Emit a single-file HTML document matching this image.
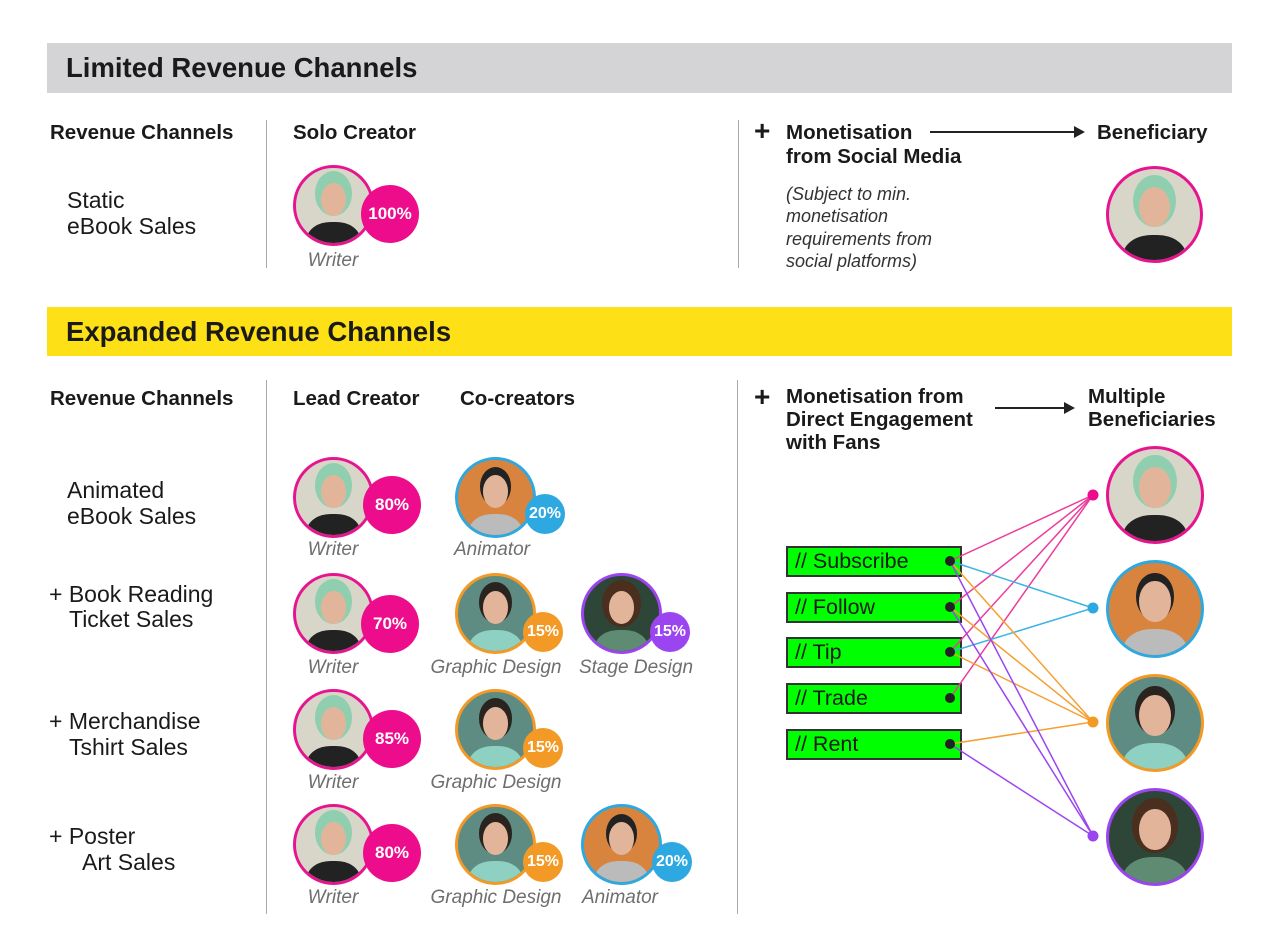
<!DOCTYPE html>
<html><head><meta charset="utf-8"><style>
*{margin:0;padding:0;box-sizing:border-box}
body{width:1280px;height:951px;background:#fff;position:relative;overflow:hidden;font-family:"Liberation Sans",sans-serif;color:#1a1a1a}
.a{position:absolute;white-space:nowrap}
.h{font-weight:bold;font-size:20.5px;line-height:23px}
.r{font-size:23px;line-height:26px}
.it{font-style:italic;color:#6e6e6e;font-size:19px;line-height:20px;transform:translateX(-50%)}
.av{position:absolute;width:81px;height:81px;border-radius:50%;border:3px solid;overflow:hidden}
.av i{position:absolute;left:50%;top:20%;width:34%;height:44%;margin-left:-17%;border-radius:50%;background:#e2b59a}
.av b{position:absolute;left:15%;top:72%;width:70%;height:50%;border-radius:45% 45% 0 0;background:#222}
.w{border-color:#e6158f;background:#d8d5c9}
.w i{box-shadow:0 -6px 0 6px #8fcfb0}
.an{border-color:#2ea8e0;background:#d8843e}
.an i{box-shadow:0 -5px 0 3px #222}
.an b{background:#bbb}
.g{border-color:#f39a26;background:#5e8c82}
.g i{box-shadow:0 -5px 0 4px #2a2420}
.g b{background:#8ed0c2}
.s{border-color:#9b45f0;background:#2e4638}
.s i{box-shadow:0 -4px 0 7px #4a2e1e}
.s b{background:#5f8b72}
.bd{position:absolute;border-radius:50%;color:#fff;font-weight:bold;display:flex;align-items:center;justify-content:center}
.bp{background:#ec0c8c;width:58px;height:58px;font-size:17px}
.bb{background:#2ea8e0;width:40px;height:40px;font-size:16px}
.bo{background:#f39a26;width:40px;height:40px;font-size:16px}
.bv{background:#9b45f0;width:40px;height:40px;font-size:16px}
.gb{position:absolute;left:786px;width:176px;height:31px;background:#00ff00;border:2px solid #333;font-size:21.5px;line-height:27px;padding-left:7px}
.vl{position:absolute;width:1px;background:#aaa}
</style></head><body>
<div class="a" style="left:47px;top:43px;width:1185px;height:50px;background:#d4d4d6"></div>
<div class="a" style="left:66px;top:53px;font-size:27.5px;font-weight:bold;line-height:30px">Limited Revenue Channels</div>
<div class="a" style="left:47px;top:307px;width:1185px;height:49px;background:#fde015"></div>
<div class="a" style="left:66px;top:317px;font-size:27.5px;font-weight:bold;line-height:30px">Expanded Revenue Channels</div>

<div class="vl" style="left:266px;top:120px;height:148px"></div>
<div class="vl" style="left:738px;top:120px;height:148px"></div>
<div class="vl" style="left:266px;top:380px;height:534px"></div>
<div class="vl" style="left:737px;top:380px;height:534px"></div>

<div class="a h" style="left:50px;top:121px">Revenue Channels</div>
<div class="a h" style="left:293px;top:121px">Solo Creator</div>
<div class="a r" style="left:67px;top:187px">Static</div>
<div class="a r" style="left:67px;top:213px">eBook Sales</div>
<div class="av w" style="left:293px;top:165px"><i></i><b></b></div>
<div class="bd bp" style="left:361px;top:185px">100%</div>
<div class="a it" style="left:333px;top:251px">Writer</div>

<div class="a" style="left:754px;top:117px;font-size:28px;font-weight:bold;line-height:28px">+</div>
<div class="a h" style="left:786px;top:121px">Monetisation</div>
<div class="a h" style="left:786px;top:145px">from Social Media</div>
<div class="a" style="left:930px;top:131px;width:148px;height:2px;background:#222"></div>
<div class="a" style="left:1074px;top:126px;width:0;height:0;border-left:11px solid #222;border-top:6px solid transparent;border-bottom:6px solid transparent"></div>
<div class="a h" style="left:1097px;top:121px">Beneficiary</div>
<div class="a" style="left:786px;top:183px;font-style:italic;font-size:18px;line-height:22.3px;color:#333">(Subject to min.<br>monetisation<br>requirements from<br>social platforms)</div>
<div class="av w" style="left:1106px;top:166px;width:97px;height:97px"><i></i><b></b></div>

<div class="a h" style="left:50px;top:387px">Revenue Channels</div>
<div class="a h" style="left:293px;top:387px">Lead Creator</div>
<div class="a h" style="left:460px;top:387px">Co-creators</div>
<div class="a" style="left:754px;top:383px;font-size:28px;font-weight:bold;line-height:28px">+</div>
<div class="a h" style="left:786px;top:385px">Monetisation from<br>Direct Engagement<br>with Fans</div>
<div class="a" style="left:995px;top:407px;width:72px;height:2px;background:#222"></div>
<div class="a" style="left:1064px;top:402px;width:0;height:0;border-left:11px solid #222;border-top:6px solid transparent;border-bottom:6px solid transparent"></div>
<div class="a h" style="left:1088px;top:385px">Multiple<br>Beneficiaries</div>

<div class="a r" style="left:67px;top:477px">Animated</div>
<div class="a r" style="left:67px;top:503px">eBook Sales</div>
<div class="a r" style="left:49px;top:581px">+ Book Reading</div>
<div class="a r" style="left:69px;top:606px">Ticket Sales</div>
<div class="a r" style="left:49px;top:708px">+ Merchandise</div>
<div class="a r" style="left:69px;top:734px">Tshirt Sales</div>
<div class="a r" style="left:49px;top:823px">+ Poster</div>
<div class="a r" style="left:82px;top:849px">Art Sales</div>

<!-- row1 -->
<div class="av w" style="left:293px;top:457px"><i></i><b></b></div>
<div class="bd bp" style="left:363px;top:476px">80%</div>
<div class="av an" style="left:455px;top:457px"><i></i><b></b></div>
<div class="bd bb" style="left:525px;top:494px">20%</div>
<div class="a it" style="left:333px;top:540px">Writer</div>
<div class="a it" style="left:492px;top:540px">Animator</div>
<!-- row2 -->
<div class="av w" style="left:293px;top:573px"><i></i><b></b></div>
<div class="bd bp" style="left:361px;top:595px">70%</div>
<div class="av g" style="left:455px;top:573px"><i></i><b></b></div>
<div class="bd bo" style="left:523px;top:612px">15%</div>
<div class="av s" style="left:581px;top:573px"><i></i><b></b></div>
<div class="bd bv" style="left:650px;top:612px">15%</div>
<div class="a it" style="left:333px;top:658px">Writer</div>
<div class="a it" style="left:496px;top:658px">Graphic Design</div>
<div class="a it" style="left:636px;top:658px">Stage Design</div>
<!-- row3 -->
<div class="av w" style="left:293px;top:689px"><i></i><b></b></div>
<div class="bd bp" style="left:363px;top:710px">85%</div>
<div class="av g" style="left:455px;top:689px"><i></i><b></b></div>
<div class="bd bo" style="left:523px;top:728px">15%</div>
<div class="a it" style="left:333px;top:773px">Writer</div>
<div class="a it" style="left:496px;top:773px">Graphic Design</div>
<!-- row4 -->
<div class="av w" style="left:293px;top:804px"><i></i><b></b></div>
<div class="bd bp" style="left:363px;top:824px">80%</div>
<div class="av g" style="left:455px;top:804px"><i></i><b></b></div>
<div class="bd bo" style="left:523px;top:842px">15%</div>
<div class="av an" style="left:581px;top:804px"><i></i><b></b></div>
<div class="bd bb" style="left:652px;top:842px">20%</div>
<div class="a it" style="left:333px;top:888px">Writer</div>
<div class="a it" style="left:496px;top:888px">Graphic Design</div>
<div class="a it" style="left:620px;top:888px">Animator</div>

<!-- engagement -->
<div class="gb" style="top:546px">// Subscribe</div>
<div class="gb" style="top:592px">// Follow</div>
<div class="gb" style="top:637px">// Tip</div>
<div class="gb" style="top:683px">// Trade</div>
<div class="gb" style="top:729px">// Rent</div>

<svg class="a" style="left:0;top:0" width="1280" height="951">
<g stroke-width="1.5" fill="none">
<g stroke="#ec3c9c"><line x1="950" y1="561" x2="1093" y2="495"/><line x1="950" y1="607" x2="1093" y2="495"/><line x1="950" y1="652" x2="1093" y2="495"/><line x1="950" y1="698" x2="1093" y2="495"/></g>
<g stroke="#3db3e6"><line x1="950" y1="561" x2="1093" y2="608"/><line x1="950" y1="652" x2="1093" y2="608"/></g>
<g stroke="#f5a033"><line x1="950" y1="561" x2="1093" y2="722"/><line x1="950" y1="607" x2="1093" y2="722"/><line x1="950" y1="652" x2="1093" y2="722"/><line x1="950" y1="744" x2="1093" y2="722"/></g>
<g stroke="#9b45f0"><line x1="950" y1="561" x2="1093" y2="836"/><line x1="950" y1="607" x2="1093" y2="836"/><line x1="950" y1="744" x2="1093" y2="836"/></g>
</g>
<g fill="#222"><circle cx="950" cy="561" r="5"/><circle cx="950" cy="607" r="5"/><circle cx="950" cy="652" r="5"/><circle cx="950" cy="698" r="5"/><circle cx="950" cy="744" r="5"/></g>
<circle cx="1093" cy="495" r="5.5" fill="#ec0c8c"/><circle cx="1093" cy="608" r="5.5" fill="#2ea8e0"/><circle cx="1093" cy="722" r="5.5" fill="#f39a26"/><circle cx="1093" cy="836" r="5.5" fill="#9b45f0"/>
</svg>

<div class="av w" style="left:1106px;top:446px;width:98px;height:98px"><i></i><b></b></div>
<div class="av an" style="left:1106px;top:560px;width:98px;height:98px"><i></i><b></b></div>
<div class="av g" style="left:1106px;top:674px;width:98px;height:98px"><i></i><b></b></div>
<div class="av s" style="left:1106px;top:788px;width:98px;height:98px"><i></i><b></b></div>
</body></html>
